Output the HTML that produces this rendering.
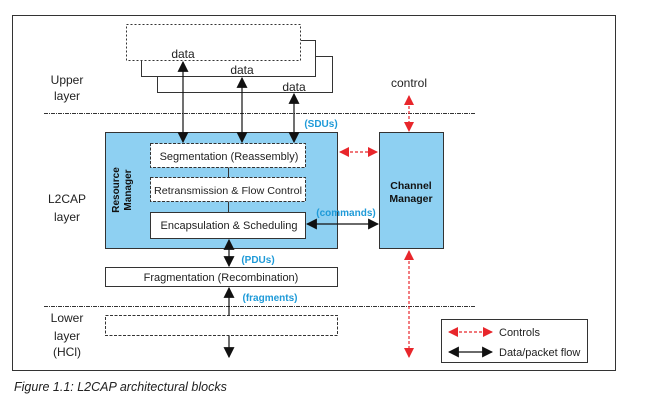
<!DOCTYPE html>
<html><head><meta charset="utf-8"><style>
html,body{margin:0;padding:0;background:#fff;}
svg{display:block;font-family:"Liberation Sans",Arial,sans-serif;}
</style></head><body>
<svg width="650" height="404" viewBox="0 0 650 404" xmlns="http://www.w3.org/2000/svg">
<defs>
<marker id="bk" viewBox="0 0 10 10" refX="9" refY="5" markerWidth="11" markerHeight="11" markerUnits="userSpaceOnUse" orient="auto-start-reverse"><path d="M0,0 L10,5 L0,10 z" fill="#111"/></marker>
<marker id="rd" viewBox="0 0 10 10" refX="9" refY="5" markerWidth="10" markerHeight="10" markerUnits="userSpaceOnUse" orient="auto-start-reverse"><path d="M0,0 L10,5 L0,10 z" fill="#e8262b"/></marker>
</defs>
<rect x="12.5" y="15.5" width="603" height="355" fill="#fff" stroke="#333" stroke-width="1"/>
<polyline points="301,40.5 315.5,40.5 315.5,76.5 141.5,76.5 141.5,60" fill="none" stroke="#333"/>
<polyline points="315.5,56.5 332.5,56.5 332.5,92.5 157.5,92.5 157.5,76.5" fill="none" stroke="#333"/>
<rect x="126.5" y="24.5" width="174" height="36" fill="#fff" stroke="#333" stroke-dasharray="2,2"/>
<g font-size="12" fill="#222" text-anchor="middle">
<text x="183" y="58">data</text>
<text x="242" y="74">data</text>
<text x="294" y="91">data</text>
<text x="67" y="84">Upper</text><text x="67" y="100">layer</text>
<text x="409" y="87">control</text>
<text x="67" y="203">L2CAP</text><text x="67" y="221">layer</text>
<text x="67" y="322">Lower</text><text x="67" y="340">layer</text><text x="67" y="356">(HCl)</text>
</g>
<line x1="44" y1="113.5" x2="475" y2="113.5" stroke="#333" stroke-dasharray="4,1,1,1"/>
<line x1="44" y1="306.5" x2="475" y2="306.5" stroke="#333" stroke-dasharray="4,1,1,1"/>
<rect x="105.5" y="132.5" width="232" height="116" fill="#8ed0f2" stroke="#333"/>
<rect x="379.5" y="132.5" width="64" height="116" fill="#8ed0f2" stroke="#333"/>
<text x="411" y="189" font-size="10.5" font-weight="bold" text-anchor="middle" fill="#111">Channel</text>
<text x="411" y="202" font-size="10.5" font-weight="bold" text-anchor="middle" fill="#111">Manager</text>
<g transform="translate(122,190) rotate(-90)"><text x="0" y="-3" font-size="10" font-weight="bold" text-anchor="middle" fill="#111">Resource</text><text x="0" y="9" font-size="10" font-weight="bold" text-anchor="middle" fill="#111">Manager</text></g>
<line x1="228.5" y1="167" x2="228.5" y2="212" stroke="#333"/>
<rect x="150.5" y="143.5" width="155" height="24" fill="#fff" stroke="#333" stroke-dasharray="3,1.5"/>
<rect x="150.5" y="177.5" width="155" height="24" fill="#fff" stroke="#333" stroke-dasharray="3,1.5"/>
<rect x="150.5" y="212.5" width="155" height="26" fill="#fff" stroke="#333"/>
<g font-size="11" fill="#222" text-anchor="middle">
<text x="229" y="160">Segmentation (Reassembly)</text>
<text x="228" y="194" font-size="10.5" textLength="148" lengthAdjust="spacingAndGlyphs">Retransmission &amp; Flow Control</text>
<text x="229" y="229">Encapsulation &amp; Scheduling</text>
</g>
<rect x="105.5" y="267.5" width="232" height="19" fill="#fff" stroke="#333"/>
<text x="221" y="281" font-size="11" fill="#222" text-anchor="middle">Fragmentation (Recombination)</text>
<rect x="105.5" y="315.5" width="232" height="20" fill="#fff" stroke="#333" stroke-dasharray="3,1.5"/>
<g stroke="#111" stroke-width="1.2" fill="none">
<line x1="183" y1="62" x2="183" y2="142" marker-start="url(#bk)" marker-end="url(#bk)"/>
<line x1="242" y1="78" x2="242" y2="142" marker-start="url(#bk)" marker-end="url(#bk)"/>
<line x1="294" y1="94" x2="294" y2="142" marker-start="url(#bk)" marker-end="url(#bk)"/>
<line x1="307" y1="224" x2="378" y2="224" marker-start="url(#bk)" marker-end="url(#bk)"/>
<line x1="229" y1="240" x2="229" y2="266" marker-start="url(#bk)" marker-end="url(#bk)"/>
<line x1="229" y1="315" x2="229" y2="288" marker-end="url(#bk)"/>
<line x1="229" y1="336" x2="229" y2="357" marker-end="url(#bk)"/>
</g>
<g stroke="#e8262b" stroke-width="1.2" fill="none" stroke-dasharray="3,2">
<line x1="409" y1="96" x2="409" y2="131" marker-start="url(#rd)" marker-end="url(#rd)"/>
<line x1="340" y1="152" x2="377" y2="152" marker-start="url(#rd)" marker-end="url(#rd)"/>
<line x1="409" y1="251" x2="409" y2="357" marker-start="url(#rd)" marker-end="url(#rd)"/>
</g>
<g font-size="10" font-weight="bold" fill="#1e9ad8" text-anchor="middle">
<text x="321" y="127">(SDUs)</text>
<text x="346" y="216">(commands)</text>
<text x="258" y="263">(PDUs)</text>
<text x="270" y="301">(fragments)</text>
</g>
<rect x="441.5" y="319.5" width="146" height="43" fill="#fff" stroke="#333"/>
<line x1="449" y1="332" x2="492" y2="332" stroke="#e8262b" stroke-width="1.2" stroke-dasharray="3,2" marker-start="url(#rd)" marker-end="url(#rd)"/>
<line x1="449" y1="352" x2="492" y2="352" stroke="#111" stroke-width="1.2" marker-start="url(#bk)" marker-end="url(#bk)"/>
<text x="499" y="336" font-size="11" fill="#222">Controls</text>
<text x="499" y="356" font-size="11" fill="#222">Data/packet flow</text>
<text x="14" y="391" font-size="12.5" font-style="italic" fill="#222">Figure 1.1:  L2CAP architectural blocks</text>
</svg>
</body></html>
